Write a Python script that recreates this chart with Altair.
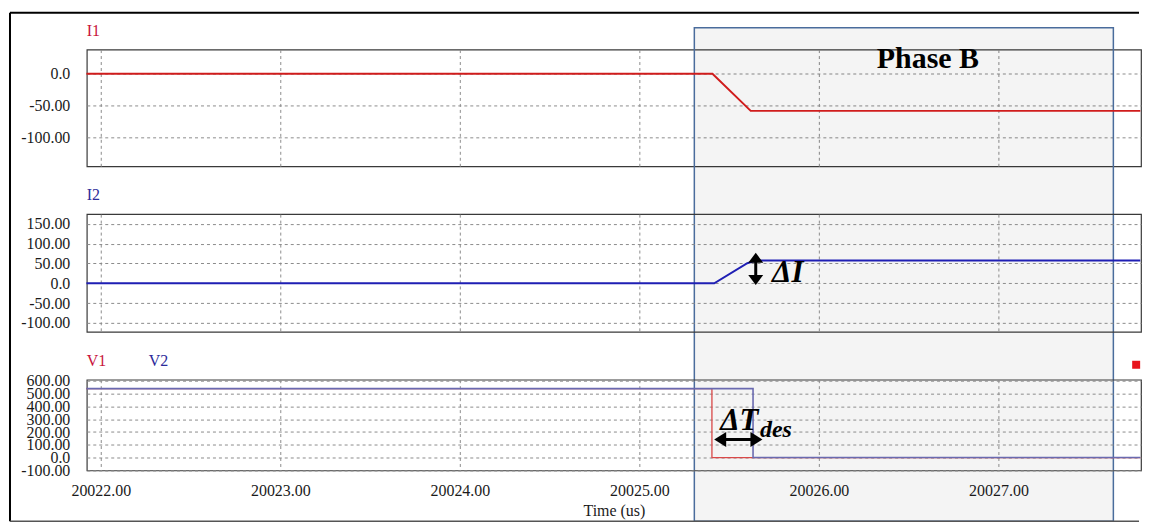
import altair as alt
import pandas as pd

# ---------------- data ----------------
t_I1 = [20021.92, 20025.407, 20025.62, 20027.79]
I1 = [0.0, 0.0, -58.3, -58.3]

t_I2 = [20021.92, 20025.417, 20025.601, 20025.65, 20027.79]
I2 = [0.0, 0.0, 50.5, 57.3, 57.3]

t_V1 = [20021.92, 20025.404, 20025.404, 20027.79]
V1 = [540.0, 540.0, 0.0, 0.0]

t_V2 = [20021.92, 20025.633, 20025.633, 20027.79]
V2 = [540.0, 540.0, 0.0, 0.0]

x_ticks = [20022, 20023, 20024, 20025, 20026, 20027]
y_ticks_I1 = [0, -50, -100]
y_ticks_I2 = [150, 100, 50, 0, -50, -100]
y_ticks_V = [600, 500, 400, 300, 200, 100, 0, -100]

x_domain = [20021.922, 20027.794]
y_domain_I1 = [-145.3, 38]
y_domain_I2 = [-122.7, 174.5]
y_domain_V = [-101, 610]

phase_start, phase_end = 20025.306, 20027.64

# annotation anchors (data coordinates)
phase_label = {"t": 20026.607, "v": 9.8, "text": "Phase B"}
dI_shaft = {"t": 20025.648, "v": 18.0, "v2": 55.0}
dI_heads_t = [20025.648, 20025.648]
dI_heads_v = [64.4, 8.2]
dI_label = {"t": 20025.739, "v": 3.2, "text": "ΔI"}
dT_shaft = {"t": 20025.45, "t2": 20025.652, "v": 141.2}
dT_heads_t = [20025.45, 20025.652]
dT_heads_v = [141.2, 141.2]
dT_label = {"t": 20025.45, "v": 217.0, "text": "ΔT"}
dT_sub = {"t": 20025.672, "v": 164.7, "text": "des"}
marker = {"t": 20027.767, "v": 727.0}

# ---------------- styling ----------------
SERIF = "Liberation Serif"
RED = "#d01c1c"
BLUE = "#1f1fb4"
V1_COLOR = "#d94848"
V2_COLOR = "#6a6ab0"
BOX_EDGE = "#4a6c9c"
LABEL_RED = "#c8143c"
LABEL_BLUE = "#2b2b9a"
W = 1057
H1, H2, H3 = 117, 118, 91

xs = alt.Scale(domain=x_domain, nice=False, zero=False)

LABEL_EXPR = "replace(datum.value == 0 ? '0.0' : format(datum.value, '.2f'), '\u2212', '-')"


def x_axis(show):
    if show:
        return alt.Axis(values=x_ticks, format=".2f", ticks=False, domain=False, grid=True,
                        labelPadding=12, labelFlush=False, labelOverlap=False,
                        title="Time (us)", titlePadding=4)
    return alt.Axis(values=x_ticks, labels=False, ticks=False, domain=False, grid=True, title=None)


def y_axis(vals):
    return alt.Axis(values=vals, ticks=False, domain=False, grid=True, title=None,
                    labelPadding=17, labelOverlap=False, labelFlush=False,
                    labelExpr=LABEL_EXPR)


def line_df(t, v):
    return pd.DataFrame({"t": t, "v": v, "i": list(range(len(t)))})


def panel_label(text, color, dx):
    return alt.Chart(pd.DataFrame({"text": [text]})).mark_text(
        font=SERIF, fontSize=16, color=color, align="left", baseline="alphabetic"
    ).encode(x=alt.value(dx), y=alt.value(-14), text="text:N")


one = pd.DataFrame({"a": [0]})

# ---------------- panel 1: I1 ----------------
p1_x = alt.X("t:Q", scale=xs, axis=x_axis(False))
p1_y = alt.Y("v:Q", scale=alt.Scale(domain=y_domain_I1, nice=False, zero=False), axis=y_axis(y_ticks_I1))

phase_box = alt.Chart(pd.DataFrame({"t": [phase_start], "t2": [phase_end]})).mark_rect(
    fill="black", fillOpacity=0.045, stroke=BOX_EDGE, strokeWidth=1.5
).encode(x=p1_x, x2="t2:Q", y=alt.value(-22), y2=alt.value(473))

i1_line = alt.Chart(line_df(t_I1, I1)).mark_line(color=RED, strokeWidth=2).encode(
    x=p1_x, y=p1_y, order="i:Q")

phase_text = alt.Chart(pd.DataFrame([phase_label])).mark_text(
    font=SERIF, fontSize=30, fontWeight="bold", color="black", align="center", baseline="alphabetic"
).encode(x=p1_x, y=p1_y, text="text:N")

frame_top = alt.Chart(one).mark_rule(color="black", strokeWidth=2).encode(
    x=alt.value(-77), x2=alt.value(1055), y=alt.value(-37))
frame_left = alt.Chart(one).mark_rule(color="black", strokeWidth=2).encode(
    x=alt.value(-77), y=alt.value(-37), y2=alt.value(473))
frame_bottom = alt.Chart(one).mark_rule(color="#555555", strokeWidth=1.5).encode(
    x=alt.value(-77), x2=alt.value(1055), y=alt.value(473))

p1 = alt.layer(phase_box, i1_line, phase_text, frame_top, frame_left, frame_bottom,
               panel_label("I1", LABEL_RED, 0)).properties(width=W, height=H1)

# ---------------- panel 2: I2 ----------------
p2_x = alt.X("t:Q", scale=xs, axis=x_axis(False))
p2_y = alt.Y("v:Q", scale=alt.Scale(domain=y_domain_I2, nice=False, zero=False), axis=y_axis(y_ticks_I2))

i2_line = alt.Chart(line_df(t_I2, I2)).mark_line(color=BLUE, strokeWidth=2).encode(
    x=p2_x, y=p2_y, order="i:Q")

dI_rule = alt.Chart(pd.DataFrame([dI_shaft])).mark_rule(color="black", strokeWidth=3).encode(
    x=p2_x, y=p2_y, y2="v2:Q")

dI_up = alt.Chart(pd.DataFrame({"t": dI_heads_t[:1], "v": dI_heads_v[:1]})).mark_point(
    shape="M0,-0.667L1,0.667L-1,0.667Z", size=225, filled=True, color="black", opacity=1
).encode(x=p2_x, y=p2_y)
dI_down = alt.Chart(pd.DataFrame({"t": dI_heads_t[1:], "v": dI_heads_v[1:]})).mark_point(
    shape="M0,0.667L1,-0.667L-1,-0.667Z", size=225, filled=True, color="black", opacity=1
).encode(x=p2_x, y=p2_y)

dI_text = alt.Chart(pd.DataFrame([dI_label])).mark_text(
    font=SERIF, fontSize=31, fontWeight="bold", fontStyle="italic", color="black",
    align="left", baseline="alphabetic"
).encode(x=p2_x, y=p2_y, text="text:N")

p2 = alt.layer(i2_line, dI_rule, dI_up, dI_down, dI_text,
               panel_label("I2", LABEL_BLUE, 0)).properties(width=W, height=H2)

# ---------------- panel 3: V1, V2 ----------------
p3_x = alt.X("t:Q", scale=xs, axis=x_axis(True))
p3_y = alt.Y("v:Q", scale=alt.Scale(domain=y_domain_V, nice=False, zero=False), axis=y_axis(y_ticks_V))

v1_line = alt.Chart(line_df(t_V1, V1)).mark_line(color=V1_COLOR, strokeWidth=1.3).encode(
    x=p3_x, y=p3_y, order="i:Q")
v2_line = alt.Chart(line_df(t_V2, V2)).mark_line(color=V2_COLOR, strokeWidth=1.6).encode(
    x=p3_x, y=p3_y, order="i:Q")

dT_rule = alt.Chart(pd.DataFrame([dT_shaft])).mark_rule(color="black", strokeWidth=3).encode(
    x=p3_x, x2="t2:Q", y=p3_y)
dT_left = alt.Chart(pd.DataFrame({"t": dT_heads_t[:1], "v": dT_heads_v[:1]})).mark_point(
    shape="M-0.8,0L0.8,-1L0.8,1Z", size=225, filled=True, color="black", opacity=1
).encode(x=p3_x, y=p3_y)
dT_right = alt.Chart(pd.DataFrame({"t": dT_heads_t[1:], "v": dT_heads_v[1:]})).mark_point(
    shape="M0.8,0L-0.8,-1L-0.8,1Z", size=225, filled=True, color="black", opacity=1
).encode(x=p3_x, y=p3_y)

dT_text = alt.Chart(pd.DataFrame([dT_label])).mark_text(
    font=SERIF, fontSize=31, fontWeight="bold", fontStyle="italic", color="black",
    align="left", baseline="alphabetic"
).encode(x=p3_x, y=p3_y, text="text:N")
dT_subtext = alt.Chart(pd.DataFrame([dT_sub])).mark_text(
    font=SERIF, fontSize=24, fontWeight="bold", fontStyle="italic", color="black",
    align="left", baseline="alphabetic"
).encode(x=p3_x, y=p3_y, text="text:N")

red_marker = alt.Chart(pd.DataFrame([marker])).mark_point(
    shape="square", size=64, filled=True, color="#e8141c", opacity=1
).encode(x=p3_x, y=p3_y)

p3 = alt.layer(v1_line, v2_line, dT_rule, dT_left, dT_right, dT_text, dT_subtext,
               red_marker, panel_label("V1", LABEL_RED, 0),
               panel_label("V2", LABEL_BLUE, 62)).properties(width=W, height=H3)

chart = alt.vconcat(p1, p2, p3, spacing=48, bounds="flush").properties(
    padding={"left": 0, "top": 2, "right": 0, "bottom": 0},
    background="white",
).configure_view(
    stroke="#3a3a3a", strokeWidth=1.2
).configure_axis(
    gridColor="#8c8c8c", gridDash=[3, 3], gridWidth=1, gridOpacity=1,
    labelFont=SERIF, labelFontSize=16, labelColor="#1a1a1a",
    titleFont=SERIF, titleFontSize=16, titleFontWeight="normal", titleColor="#1a1a1a",
)

chart.save("out.html", embed_options={"renderer": "svg", "actions": False})
